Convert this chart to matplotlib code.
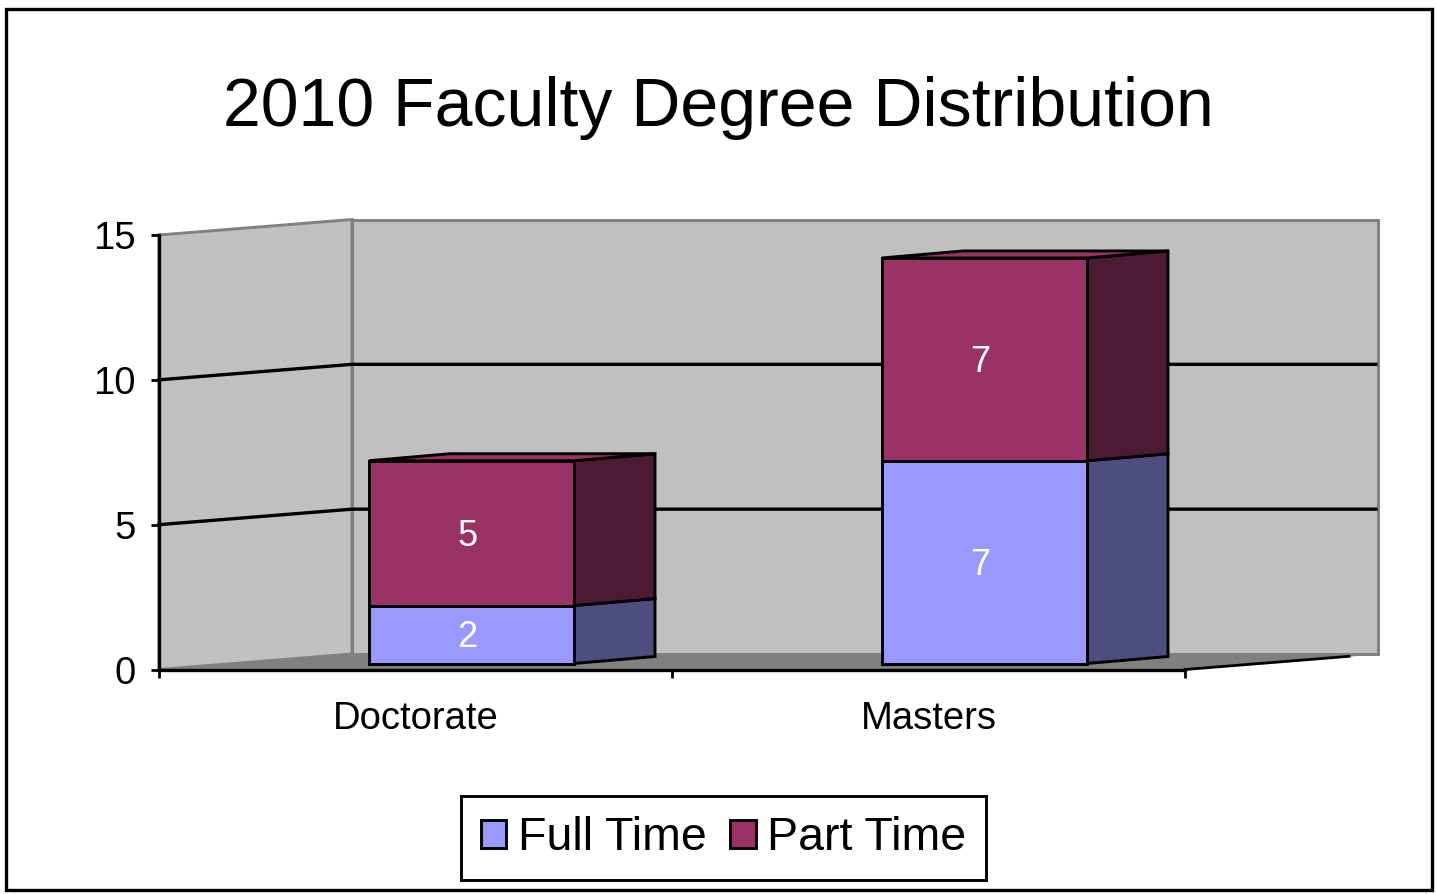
import numpy as np
import matplotlib
matplotlib.use('Agg')
import matplotlib.pyplot as plt
from matplotlib.patches import Patch, Polygon, Rectangle

categorias = ['Doctorate', 'Masters']
full_time = [2, 7]
part_time = [5, 7]
marcas_y = [0, 5, 10, 15]

plt.rcParams['font.family'] = ['Liberation Sans', 'DejaVu Sans']

W = 1437
H = 894
color_full = '#9999FF'
color_part = '#993366'
lado_full = '#4D4D80'
lado_part = '#4D1A33'

fig = plt.figure(figsize=(W/100, H/100), dpi=100, facecolor='white')

# el eje frontal va de x=159 a x=1185, y de y=235 a y=669.5 en pixeles
ax = fig.add_axes([159/W, 1-669.5/H, 1026/W, 434.5/H])
ax.set_xlim(0, 2)
ax.set_ylim(0, 15)
ax.patch.set_visible(False)
px_x = 2/1026
px_y = 15/434.5

# profundidad de las paredes
DX = 193*px_x
DY = 15.5*px_y

def cara(puntos, relleno, borde, z, lw=2.1):
    ax.add_patch(Polygon(puntos, closed=True, facecolor=relleno, edgecolor=borde,
                         linewidth=lw, zorder=z, clip_on=False, joinstyle='miter'))

# paredes y piso
cara([(DX, DY), (2+DX, DY), (2+DX, 15+DY), (DX, 15+DY)], '#C0C0C0', '#808080', 1)
cara([(0, 0), (DX, DY), (DX, 15+DY), (0, 15)], '#C0C0C0', '#808080', 1)
cara([(0, 0), (DX, DY), (2+DX, DY), (2, 0)], '#808080', '#808080', 1.5, 0.5)
ax.plot([2, 2+0.85*DX], [0, 0.85*DY], color='black', lw=2, zorder=1.6, clip_on=False)

for v in marcas_y[1:-1]:
    ax.plot([0, DX, 2+DX-0.004], [v, v+DY, v+DY], color='black', lw=2.4, zorder=2,
            clip_on=False)

# barras apiladas con su cara lateral y superior
ancho = 205*px_x
x_barras = np.arange(len(categorias)) + 0.5 + 56*px_x
base = 6*px_y
bx = 81*px_x
by = 7*px_y

inferior = np.array(full_time)*0 + base
for serie, frente, lado in [(full_time, color_full, lado_full), (part_time, color_part, lado_part)]:
    serie = np.array(serie)
    for i in range(len(categorias)):
        x1 = x_barras[i] + ancho/2
        y0 = inferior[i]
        y1 = y0 + serie[i]
        cara([(x1, y0), (x1+bx, y0+by), (x1+bx, y1+by), (x1, y1)], lado, 'black', 3)
    ax.bar(x_barras, serie, ancho, bottom=inferior, color=frente, edgecolor='black',
           linewidth=2.1, zorder=4, clip_on=False)
    for i in range(len(categorias)):
        ax.text(x_barras[i]-4*px_x, inferior[i]+serie[i]/2-3*px_y, str(serie[i]), color='white',
                fontsize=26, ha='center', va='center', zorder=5)
    inferior = inferior + serie

# tapa superior de las barras
for i in range(len(categorias)):
    x0 = x_barras[i] - ancho/2
    x1 = x_barras[i] + ancho/2
    y1 = inferior[i]
    cara([(x0, y1), (x1, y1), (x1+bx, y1+by), (x0+bx, y1+by)], color_part, 'black', 3.5)
    ax.bar(x_barras[i], part_time[i], ancho, bottom=y1-part_time[i], color=color_part,
           edgecolor='black', linewidth=2.1, zorder=4, clip_on=False)

# ejes
for lado_eje in ['top', 'right']:
    ax.spines[lado_eje].set_visible(False)
for lado_eje in ['left', 'bottom']:
    ax.spines[lado_eje].set_linewidth(2.4)
    ax.spines[lado_eje].set_zorder(2.5)
ax.set_yticks(marcas_y)
ax.set_xticks([0, 1, 2])
ax.set_xticklabels([])
ax.set_xticks([0.5, 1.5], minor=True)
ax.set_xticklabels(categorias, minor=True)
ax.tick_params(axis='y', length=6, width=2, labelsize=27.5, pad=11)
ax.tick_params(axis='x', which='major', length=6, width=2)
ax.tick_params(axis='x', which='minor', length=0, labelsize=27.5, pad=23)

fig.text(718/W, 1-108/H, '2010 Faculty Degree Distribution', fontsize=49, ha='center',
         va='center', color='black')

manejadores = [Patch(facecolor=color_full, edgecolor='black', linewidth=2.1),
               Patch(facecolor=color_part, edgecolor='black', linewidth=2.1)]
ley = fig.legend(manejadores, ['Full Time', 'Part Time'], ncol=2, loc='center',
                 bbox_to_anchor=(723.5/W, 1-838/H), fontsize=33.5, frameon=True,
                 fancybox=False, framealpha=1, edgecolor='black',
                 handlelength=0.55, handleheight=0.55, handletextpad=0.25,
                 columnspacing=0.5, borderpad=0.42, borderaxespad=0)
ley.get_frame().set_linewidth(2.1)

# marco exterior
fig.add_artist(Rectangle((6/W, 1-890/H), 1426/W, 881/H, transform=fig.transFigure,
                         facecolor='none', edgecolor='black', linewidth=2.4))

fig.savefig('out.png', dpi=100)
